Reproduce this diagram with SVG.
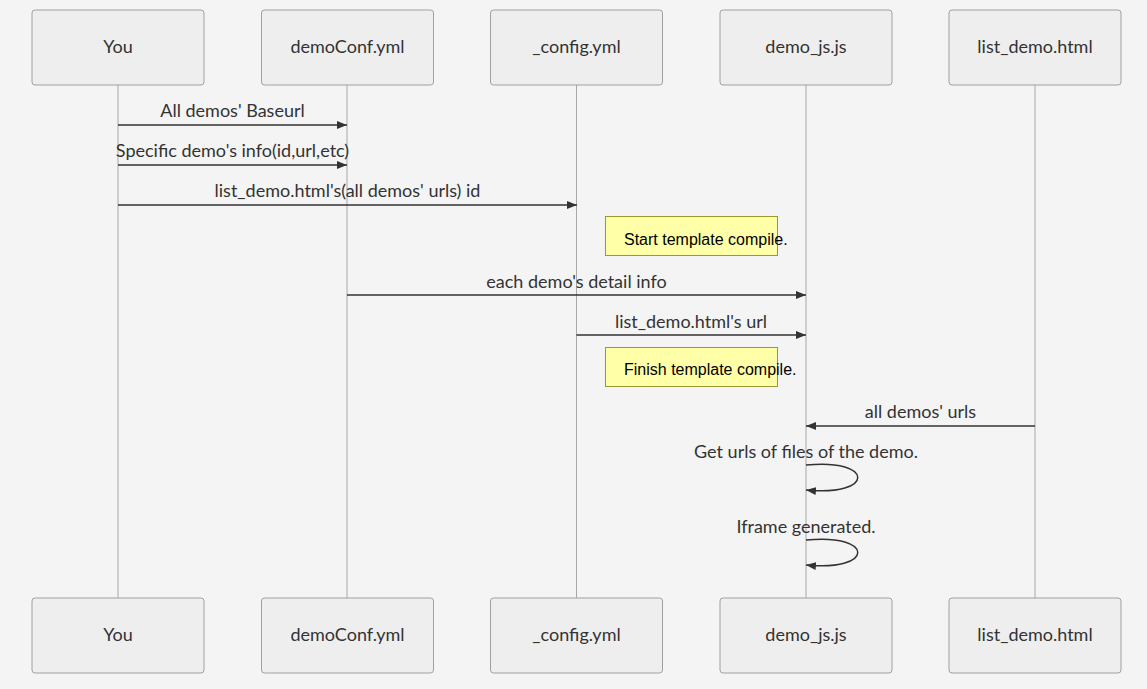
<svg xmlns="http://www.w3.org/2000/svg" width="1147" height="689" viewBox="0 0 1147 689">
<defs>
<style>
.actor{fill:#eeeeee;stroke:#a0a0a0;stroke-width:1}
.atext{font-family:Lato,"Liberation Sans",sans-serif;font-size:18px;fill:#333;text-anchor:middle;dominant-baseline:central}
.life{stroke:#a8a8a8;stroke-width:1;fill:none}
.msg{stroke:#333;stroke-width:1.5;fill:none}
.mtext{font-family:Lato,"Liberation Sans",sans-serif;font-size:18px;fill:#333;text-anchor:middle}
.note{fill:#ffffa8;stroke:#999933;stroke-width:1}
.ntext{font-family:"Liberation Sans",Arial,sans-serif;font-size:16px;fill:#000}
</style>
<marker id="arrow" viewBox="0 0 10 10" refX="10" refY="5" markerWidth="10" markerHeight="10" markerUnits="userSpaceOnUse" orient="auto">
<path d="M0,1 L10,5 L0,9 z" fill="#333"/>
</marker>
</defs>
<rect width="1147" height="689" fill="#f4f4f4"/>
<g id="lifelines">
<line class="life" x1="118" y1="85" x2="118" y2="598"/>
<line class="life" x1="347" y1="85" x2="347" y2="598"/>
<line class="life" x1="576.5" y1="85" x2="576.5" y2="598"/>
<line class="life" x1="806" y1="85" x2="806" y2="598"/>
<line class="life" x1="1035" y1="85" x2="1035" y2="598"/>
</g>
<g id="actor-you-top"><rect class="actor" x="32" y="10" width="172" height="75" rx="3"/><text class="atext" x="118" y="46">You</text></g>
<g id="actor-democonf-top"><rect class="actor" x="261.5" y="10" width="172" height="75" rx="3"/><text class="atext" x="347.5" y="46">demoConf.yml</text></g>
<g id="actor-config-top"><rect class="actor" x="490.5" y="10" width="172" height="75" rx="3"/><text class="atext" x="576.5" y="46">_config.yml</text></g>
<g id="actor-demojs-top"><rect class="actor" x="720" y="10" width="172" height="75" rx="3"/><text class="atext" x="806" y="46">demo_js.js</text></g>
<g id="actor-listdemo-top"><rect class="actor" x="949" y="10" width="172" height="75" rx="3"/><text class="atext" x="1035" y="46">list_demo.html</text></g>
<g id="actor-you-bottom"><rect class="actor" x="32" y="598" width="172" height="75" rx="3"/><text class="atext" x="118" y="634">You</text></g>
<g id="actor-democonf-bottom"><rect class="actor" x="261.5" y="598" width="172" height="75" rx="3"/><text class="atext" x="347.5" y="634">demoConf.yml</text></g>
<g id="actor-config-bottom"><rect class="actor" x="490.5" y="598" width="172" height="75" rx="3"/><text class="atext" x="576.5" y="634">_config.yml</text></g>
<g id="actor-demojs-bottom"><rect class="actor" x="720" y="598" width="172" height="75" rx="3"/><text class="atext" x="806" y="634">demo_js.js</text></g>
<g id="actor-listdemo-bottom"><rect class="actor" x="949" y="598" width="172" height="75" rx="3"/><text class="atext" x="1035" y="634">list_demo.html</text></g>
<g id="note-start"><rect class="note" x="605.5" y="216.5" width="172" height="39"/><text class="ntext" x="624" y="245">Start template compile.</text></g>
<g id="note-finish"><rect class="note" x="605.5" y="347.5" width="172" height="39"/><text class="ntext" x="624" y="375">Finish template compile.</text></g>
<g id="connectors">
<line class="msg" x1="118" y1="125" x2="347" y2="125" marker-end="url(#arrow)"/>
<text class="mtext" x="232.5" y="117">All demos' Baseurl</text>
<line class="msg" x1="118" y1="165" x2="347" y2="165" marker-end="url(#arrow)"/>
<text class="mtext" x="232.5" y="157">Specific demo's info(id,url,etc)</text>
<line class="msg" x1="118" y1="205" x2="577" y2="205" marker-end="url(#arrow)"/>
<text class="mtext" x="347.5" y="197">list_demo.html's(all demos' urls) id</text>
<line class="msg" x1="347" y1="295" x2="806" y2="295" marker-end="url(#arrow)"/>
<text class="mtext" x="576.5" y="288">each demo's detail info</text>
<line class="msg" x1="576.5" y1="335" x2="806" y2="335" marker-end="url(#arrow)"/>
<text class="mtext" x="691" y="328">list_demo.html's url</text>
<line class="msg" x1="1035" y1="426" x2="806" y2="426" marker-end="url(#arrow)"/>
<text class="mtext" x="920.5" y="418">all demos' urls</text>
<path class="msg" d="M806,465 C875,458 875,497 806,490" marker-end="url(#arrow)"/>
<text class="mtext" x="806" y="458">Get urls of files of the demo.</text>
<path class="msg" d="M806,540 C875,533 875,572 806,565" marker-end="url(#arrow)"/>
<text class="mtext" x="806" y="533">Iframe generated.</text>
</g>
</svg>
